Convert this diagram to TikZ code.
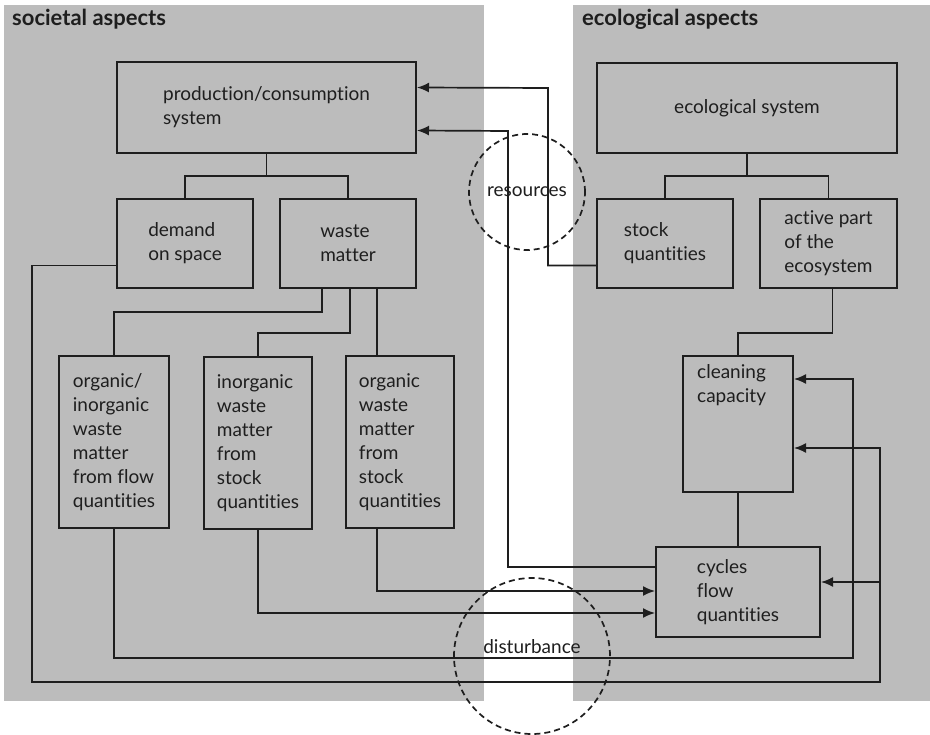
\documentclass[tikz,border=0pt]{standalone}
\usepackage{fontspec}
\setmainfont{Lato}[Ligatures={NoCommon,NoRare}]
\usepackage{tikz}
\usetikzlibrary{arrows.meta}
\definecolor{panelgray}{RGB}{188,188,188}
\definecolor{ink}{RGB}{30,30,30}

\begin{document}
\begin{tikzpicture}[x=1pt, y=-1pt,
    box/.style={draw=ink, line width=2pt, align=left, inner sep=0pt, text=ink,
        font=\fontsize{19}{24}\selectfont},
    heading/.style={anchor=base west, inner sep=0pt, text=ink,
        font=\fontsize{22}{24}\selectfont\bfseries},
    link/.style={draw=ink, line width=1.7pt},
    arr/.style={-{Latex[length=12pt,width=10pt]}},
    ring/.style={circle, draw=ink, line width=1.7pt, dash pattern=on 6pt off 4pt,
        inner sep=0pt, text=ink, font=\fontsize{19}{24}\selectfont}]
    \useasboundingbox (0,0) rectangle (930,735);

    % panels
    \fill[panelgray] (4,5) rectangle (484,701);
    \fill[panelgray] (573,5) rectangle (930,701);
    \node[heading] (soc) at (12,26) {societal aspects};
    \node[heading] (eco) at (582,26) {ecological aspects};

    % societal side
    \node[box, minimum width=299, minimum height=91] (prod) at (266.5,107.5) {production/consumption\\system};
    \node[box, minimum width=136, minimum height=89] (demand) at (185,243.5) {demand\\on space};
    \node[box, minimum width=136, minimum height=89] (waste) at (348,243.5) {waste\\matter};
    \node[box, minimum width=110, minimum height=172] (orgin) at (114,442) {organic/\\inorganic\\waste\\matter\\from flow\\quantities};
    \node[box, minimum width=108, minimum height=172] (inorg) at (258,443) {inorganic\\waste\\matter\\from\\stock\\quantities};
    \node[box, minimum width=108, minimum height=172] (org) at (400,442) {organic\\waste\\matter\\from\\stock\\quantities};

    % ecological side
    \node[box, minimum width=300, minimum height=90] (ecosys) at (747,108) {ecological system};
    \node[box, minimum width=136, minimum height=89] (stock) at (665,243.5) {stock\\quantities};
    \node[box, minimum width=137, minimum height=89] (active) at (828.5,243.5) {active part\\of the\\ecosystem};
    \node[box, minimum width=110, minimum height=136,
        label={[anchor=north west, xshift=15pt, yshift=-9pt, align=left, inner sep=0pt, text=ink,
            font=\fontsize{19}{24}\selectfont]north west:cleaning\\capacity}] (clean) at (738,424) {};
    \node[box, minimum width=164, minimum height=90] (cycles) at (738,592) {cycles\\flow\\quantities};

    % exchange zones
    \node[ring, minimum size=116] (res) at (527,192) {resources};
    \node[ring, minimum size=156,
        label={[yshift=9pt, inner sep=0pt, text=ink, font=\fontsize{19}{24}\selectfont]center:disturbance}] (dist) at (532,656) {};

    % trees
    \draw[link] (prod.south) -- ++(0,22) coordinate (pj);
    \draw[link] (demand.north) |- (pj) -| (waste.north);
    \draw[link] (ecosys.south) -- ++(0,22) coordinate (ej);
    \draw[link] (stock.north) |- (ej) -| (active.north);
    \draw[link] ([xshift=-26pt]waste.south) -- ++(0,23) -| (orgin.north);
    \draw[link] ([xshift=2pt]waste.south) -- ++(0,44) -| (inorg.north);
    \draw[link] ([xshift=29pt]waste.south) -- ([xshift=29pt]waste.south |- org.north);
    \draw[link] ([xshift=4pt]active.south) -- ++(0,44) -| (clean.north);
    \draw[link] (clean) -- (cycles);

    % flows
    \draw[link, arr] ([yshift=-22pt]stock.west) -| (548,88) -- ([yshift=20pt]prod.east);
    \draw[link, arr] ([yshift=25pt]cycles.west) -| (508,131) -- ([yshift=-23pt]prod.east);
    \draw[link, arr] ([xshift=-23pt]org.south) |- ([yshift=1pt]cycles.west);
    \draw[link, arr] (inorg.south) |- ([yshift=-21pt]cycles.west);
    \draw[link, arr] (orgin.south) |- (853,658) -- ([yshift=45pt]clean.east -| 853,0) -- ([yshift=45pt]clean.east);
    \draw[link, arr] ([yshift=-22pt]demand.west) -| (32,682) -| (880,448) -- ([yshift=-24pt]clean.east);
    \coordinate (branch) at (880,582);
    \draw[link, arr] (branch) -- ([yshift=10pt]cycles.east);
\end{tikzpicture}
\end{document}
